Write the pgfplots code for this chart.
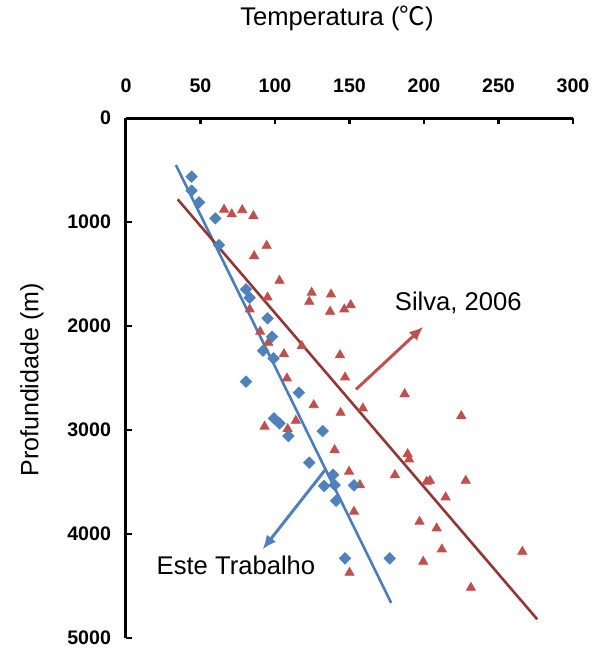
\documentclass[border=0pt]{standalone}
\usepackage{fontspec}
\setmainfont{Liberation Sans}
\newfontfamily\cjk{Noto Sans CJK SC}
\usepackage{pgfplots}
\pgfplotsset{compat=1.18}
\usetikzlibrary{arrows.meta}

\definecolor{ptblue}{HTML}{4F81BD}
\definecolor{ptred}{HTML}{C0504D}
\definecolor{fitred}{HTML}{943634}
\definecolor{fitblue}{HTML}{4A7EBB}

\begin{document}
\begin{tikzpicture}
\path[use as bounding box] (-63pt,-6pt) rectangle (236.5pt,319pt);
\begin{axis}[
  at={(0,0)}, anchor=south west,
  scale only axis, width=223.5pt, height=260pt,
  xmin=0, xmax=300, ymin=0, ymax=5000,
  y dir=reverse,
  axis x line=top, axis y line=left,
  axis line style={-, line width=1.5pt},
  xtick={0,50,...,300}, ytick={0,1000,...,5000},
  tick align=inside,
  tick style={black, line width=1.2pt},
  major tick length=3pt,
  ticklabel style={font=\bfseries\fontsize{9.8}{11}\selectfont},
  /pgf/number format/assume math mode=true,
  scaled ticks=false,
  /pgf/number format/set thousands separator={},
  xticklabel style={yshift=9pt},
  yticklabel style={xshift=-4pt},
  clip=false,
]
% fit lines
\addplot[fitblue, line width=1.3pt] coordinates {(33.5,452) (178,4663)};
\addplot[fitred, line width=1.3pt] coordinates {(34.7,782) (276,4820)};

% Silva, 2006
\addplot[only marks, mark=triangle*, mark size=2.6pt, color=ptred] coordinates {
(65.8,880)(71,925)(78,885)(85.5,942)
(94.4,1228)(86,1327)(103,1564)(124.6,1679)(123,1766)(137.6,1696)
(137,1862)(146.5,1840)(150.8,1798)(95,1724)(83,1840)
(90,2054)(95.5,2160)(118,2192)(106,2269)(143.6,2279)(147,2494)(108,2503)
(126,2760)(144,2834)(114,2910)(93,2967)(108.5,2990)(140,3192)(149.7,3400)
(159,2792)(187,2654)(225,2865)(189,3231)(190,3282)(180.5,3433)(157,3529)
(201.8,3497)(204,3487)(228,3487)(214.5,3647)(153,3785)(197,3881)(208.5,3945)
(212,4147)(199.5,4266)(266,4170)(231.5,4516)(150,4372)
};

% Este Trabalho
\addplot[only marks, mark=square*, mark size=2pt, color=ptblue, mark options={rotate=45}] coordinates {
(44,564)(44,699)(49,811)(60,965)(62.4,1221)(80.5,1647)(83,1728)
(95,1926)(98,2103)(92,2237)(99,2311)(80.5,2535)(116,2641)
(99.3,2888)(103,2936)(109,3058)(132,3010)(123,3314)
(139,3430)(133,3538)(140,3529)(141,3680)(153,3532)
(147,4234)(177,4234)
};

% annotations
\draw[ptred, line width=1.5pt, -{Latex[length=7pt,width=6pt]}] (axis cs:154.4,2609) -- (axis cs:199.5,2007);
\draw[ptblue, line width=1.5pt, -{Latex[length=7pt,width=6pt]}] (axis cs:133.6,3385) -- (axis cs:91.7,4147);
\node[font=\fontsize{12.8}{15}\selectfont] at (axis cs:223,1779) {Silva, 2006};
\node[font=\fontsize{12.8}{15}\selectfont] at (axis cs:73.8,4298) {Este Trabalho};
\end{axis}
\node[font=\fontsize{12.8}{15}\selectfont] at (105.5pt,310pt) {Temperatura ({\cjk ℃})};
\node[font=\fontsize{12.5}{15}\selectfont, rotate=90] at (-47pt,129pt) {Profundidade (m)};
\end{tikzpicture}
\end{document}
